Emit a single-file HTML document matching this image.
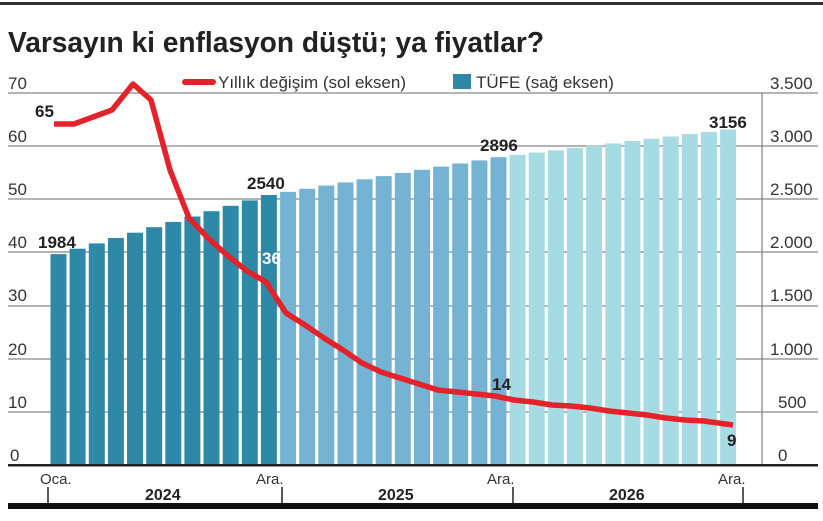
<!DOCTYPE html>
<html><head><meta charset="utf-8"><style>
body{margin:0;background:#fff;width:823px;height:521px;overflow:hidden}
svg{display:block}
text{font-family:"Liberation Sans",sans-serif}
</style></head><body>
<svg width="823" height="521" viewBox="0 0 823 521">
<rect x="0" y="2" width="823" height="3" fill="#333"/>
<text x="8" y="52" font-size="29" font-weight="bold" fill="#222" textLength="536" lengthAdjust="spacingAndGlyphs">Varsayın ki enflasyon düştü; ya fiyatlar?</text>
<g stroke="#888" stroke-width="1.3">
<line x1="8" y1="93" x2="818" y2="93"/><line x1="8" y1="146" x2="818" y2="146"/><line x1="8" y1="199" x2="818" y2="199"/><line x1="8" y1="252" x2="818" y2="252"/><line x1="8" y1="306" x2="818" y2="306"/><line x1="8" y1="359" x2="818" y2="359"/><line x1="8" y1="412" x2="818" y2="412"/>
<line x1="762" y1="93" x2="762" y2="465"/>
</g>
<g font-size="17" fill="#333">
<text x="8" y="89">70</text><text x="8" y="142">60</text><text x="8" y="195">50</text><text x="8" y="248">40</text><text x="8" y="301">30</text><text x="8" y="355">20</text><text x="8" y="408">10</text><text x="10" y="461">0</text>
<text x="770" y="89">3.500</text><text x="770" y="142">3.000</text><text x="770" y="195">2.500</text><text x="770" y="248">2.000</text><text x="770" y="301">1.500</text><text x="770" y="355">1.000</text><text x="778" y="408">500</text><text x="778" y="461">0</text>
</g>
<g fill="#2e88a8">
<rect x="50.5" y="254.1" width="16" height="210.9"/><rect x="69.6" y="248.7" width="16" height="216.3"/><rect x="88.8" y="243.4" width="16" height="221.6"/><rect x="107.9" y="238" width="16" height="227"/><rect x="127" y="232.7" width="16" height="232.3"/><rect x="146.2" y="227.2" width="16" height="237.8"/><rect x="165.3" y="221.9" width="16" height="243.1"/><rect x="184.4" y="216.5" width="16" height="248.5"/><rect x="203.5" y="211.2" width="16" height="253.8"/><rect x="222.7" y="205.8" width="16" height="259.2"/><rect x="241.8" y="200.4" width="16" height="264.6"/><rect x="260.9" y="195" width="16" height="270"/>
</g>
<g fill="#74b3d3">
<rect x="280.1" y="191.8" width="16" height="273.2"/><rect x="299.2" y="188.8" width="16" height="276.2"/><rect x="318.3" y="185.6" width="16" height="279.4"/><rect x="337.5" y="182.4" width="16" height="282.6"/><rect x="356.6" y="179.3" width="16" height="285.7"/><rect x="375.7" y="176.1" width="16" height="288.9"/><rect x="394.8" y="172.9" width="16" height="292.1"/><rect x="414" y="169.8" width="16" height="295.2"/><rect x="433.1" y="166.6" width="16" height="298.4"/><rect x="452.2" y="163.5" width="16" height="301.5"/><rect x="471.4" y="160.4" width="16" height="304.6"/><rect x="490.5" y="157.2" width="16" height="307.8"/>
</g>
<g fill="#a6dbe4">
<rect x="509.6" y="154.8" width="16" height="310.2"/><rect x="528.7" y="152.6" width="16" height="312.4"/><rect x="547.9" y="150.3" width="16" height="314.7"/><rect x="567" y="147.9" width="16" height="317.1"/><rect x="586.1" y="145.7" width="16" height="319.3"/><rect x="605.3" y="143.4" width="16" height="321.6"/><rect x="624.4" y="141" width="16" height="324"/><rect x="643.5" y="138.8" width="16" height="326.2"/><rect x="662.7" y="136.5" width="16" height="328.5"/><rect x="681.8" y="134.1" width="16" height="330.9"/><rect x="700.9" y="131.9" width="16" height="333.1"/><rect x="720.1" y="129.5" width="16" height="335.5"/>
</g>
<polyline fill="none" stroke="#e3222a" stroke-width="5.5" stroke-linejoin="round" points="54,124 74,124 93,117 112,110 133,84 151,100 170,170 189,218 208,238 228,256 247,271 266,282 286,313 305,325 324,338 343,350 362,363 381,372 400,378 419,384 438,390 457,392 476,394 495,396 514,400 533,402 552,405 571,406 590,408 609,411 628,413 647,415 666,418 685,420 704,421 733,425"/>
<rect x="8" y="464" width="810" height="2.5" fill="#222"/>
<g stroke="#222" stroke-width="1.5"><line x1="48" y1="487" x2="48" y2="504"/><line x1="282" y1="487" x2="282" y2="504"/><line x1="513" y1="487" x2="513" y2="504"/><line x1="743" y1="487" x2="743" y2="504"/></g>
<rect x="8" y="503" width="810" height="6" fill="#111"/>
<g font-size="15" fill="#333">
<text x="40" y="484">Oca.</text><text x="256" y="484">Ara.</text><text x="487" y="484">Ara.</text><text x="718" y="484">Ara.</text>
</g>
<g font-size="16" font-weight="bold" fill="#222">
<text x="145" y="500">2024</text><text x="378" y="500">2025</text><text x="609" y="500">2026</text>
</g>
<line x1="185" y1="82" x2="213" y2="82" stroke="#e3222a" stroke-width="6" stroke-linecap="round"/>
<text x="218" y="88" font-size="17" fill="#333">Yıllık değişim (sol eksen)</text>
<rect x="453" y="74" width="18" height="15" fill="#2e88a8"/>
<text x="476" y="88" font-size="17" fill="#333">TÜFE (sağ eksen)</text>
<g font-size="17" font-weight="bold" fill="#222">
<text x="35" y="117">65</text><text x="38" y="248">1984</text><text x="247" y="189">2540</text><text x="480" y="151">2896</text><text x="709" y="128">3156</text><text x="492" y="390">14</text><text x="727" y="446">9</text>
<text x="262" y="264" fill="#fff">36</text>
</g>
</svg>
</body></html>
